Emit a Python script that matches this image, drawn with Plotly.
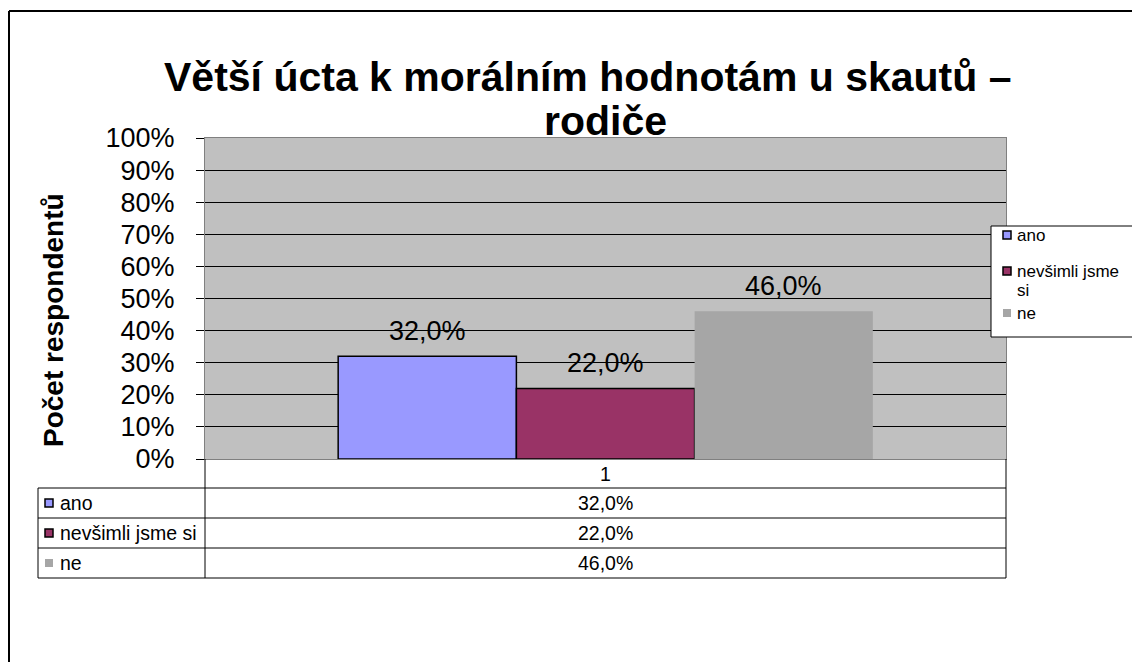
import textwrap
import plotly.graph_objects as go

# --- data -------------------------------------------------------------
categories = ["1"]
series_names = ["ano", "nevšimli jsme si", "ne"]
series_values = [0.32, 0.22, 0.46]
series_colors = ["#9999FF", "#993366", "#A6A6A6"]
series_outlined = [True, True, False]
y_ticks = [0.0, 0.1, 0.2, 0.3, 0.4, 0.5, 0.6, 0.7, 0.8, 0.9, 1.0]
title_lines = ["Větší úcta k morálním hodnotám u skautů –", "rodiče"]
y_title = "Počet respondentů"

# --- geometry (pixels of the 1132 x 662 page) --------------------------
W, H = 1132, 662
FONT = "Liberation Sans, Arial, sans-serif"
PLOT_L, PLOT_R, PLOT_T, PLOT_B = 205, 1006, 138, 459
BARGAP = 0.3325
TABLE_FONT = 19.5


def fx(p):
    return p / W


def fy(p):
    return 1 - p / H


def pct(v):
    return f"{v * 100:.1f}".replace(".", ",") + "%"


fig = go.Figure()

for name, val, col, outl in zip(series_names, series_values, series_colors, series_outlined):
    fig.add_trace(go.Bar(
        x=categories, y=[val], name=name, showlegend=False,
        marker=dict(color=col, line=dict(color="black", width=1.5 if outl else 0)),
    ))

annotations = []
shapes = []

# two-line chart title
for k, (line, xc) in enumerate(zip(title_lines, [588, 605])):
    annotations.append(dict(
        x=fx(xc), y=fy(77 + 44 * k), xref="paper", yref="paper", text=line,
        showarrow=False, xanchor="center", yanchor="middle",
        font=dict(family=FONT, size=41, color="black", weight="bold"),
    ))

# value labels above the bars
bar_w = (1 - BARGAP) / len(series_values)
for i, val in enumerate(series_values):
    annotations.append(dict(
        x=(i - (len(series_values) - 1) / 2) * bar_w, y=val, xref="x", yref="y",
        text=pct(val), showarrow=False, yanchor="bottom", yshift=8,
        font=dict(family=FONT, size=27, color="black"),
    ))

# rotated axis title
annotations.append(dict(
    x=fx(53), y=fy(320), xref="paper", yref="paper", text=y_title,
    textangle=-90, showarrow=False, xanchor="center", yanchor="middle",
    font=dict(family=FONT, size=28, color="black", weight="bold"),
))

# outer chart frame
shapes.append(dict(type="line", xref="paper", yref="paper",
                   x0=fx(9), x1=fx(9), y0=fy(11), y1=fy(H + 5),
                   line=dict(color="black", width=2)))
shapes.append(dict(type="line", xref="paper", yref="paper",
                   x0=fx(9), x1=fx(W + 5), y0=fy(11), y1=fy(11),
                   line=dict(color="black", width=2)))

# legend box
LEG_L, LEG_T, LEG_B = 991, 226, 337
shapes.append(dict(type="rect", xref="paper", yref="paper",
                   x0=fx(LEG_L), x1=fx(W + 10), y0=fy(LEG_B), y1=fy(LEG_T),
                   fillcolor="white", line=dict(color="black", width=1)))
leg_y = 235
for name, col, outl in zip(series_names, series_colors, series_outlined):
    shapes.append(dict(type="rect", xref="paper", yref="paper",
                       x0=fx(1003), x1=fx(1011), y0=fy(leg_y + 4), y1=fy(leg_y - 4),
                       fillcolor=col,
                       line=dict(color="black" if outl else col, width=1.5 if outl else 0)))
    wrapped = textwrap.wrap(name, 13)
    for k, line in enumerate(wrapped):
        annotations.append(dict(
            x=fx(1016), y=fy(leg_y + k * 19), xref="paper", yref="paper",
            text=line, showarrow=False, xanchor="left", yanchor="middle",
            borderpad=0, font=dict(family=FONT, size=17, color="black"),
        ))
    leg_y += 36 + 6 * (len(wrapped) - 1)

# data table under the plot
TBL_L = 38
row_edges = [488, 518, 548, 578]
for yb in row_edges:
    shapes.append(dict(type="line", xref="paper", yref="paper",
                       x0=fx(TBL_L), x1=fx(PLOT_R), y0=fy(yb), y1=fy(yb),
                       line=dict(color="black", width=1)))
for xv, ytop in [(TBL_L, row_edges[0]), (PLOT_L, PLOT_B), (PLOT_R, PLOT_B)]:
    shapes.append(dict(type="line", xref="paper", yref="paper",
                       x0=fx(xv), x1=fx(xv), y0=fy(ytop), y1=fy(row_edges[-1]),
                       line=dict(color="black", width=1)))
for i, (name, val, col, outl) in enumerate(zip(series_names, series_values,
                                                series_colors, series_outlined)):
    yc = (row_edges[i] + row_edges[i + 1]) / 2
    shapes.append(dict(type="rect", xref="paper", yref="paper",
                       x0=fx(45), x1=fx(53), y0=fy(yc + 4), y1=fy(yc - 4),
                       fillcolor=col,
                       line=dict(color="black" if outl else col, width=1.5 if outl else 0)))
    annotations.append(dict(
        x=fx(58), y=fy(yc), xref="paper", yref="paper", text=name,
        showarrow=False, xanchor="left", yanchor="middle",
        font=dict(family=FONT, size=TABLE_FONT, color="black"),
    ))
    annotations.append(dict(
        x=fx((PLOT_L + PLOT_R) / 2), y=fy(yc), xref="paper", yref="paper",
        text=pct(val), showarrow=False, xanchor="center", yanchor="middle",
        font=dict(family=FONT, size=TABLE_FONT, color="black"),
    ))

fig.update_layout(
    width=W, height=H,
    margin=dict(l=0, r=0, t=0, b=0, autoexpand=False),
    paper_bgcolor="white", plot_bgcolor="#C0C0C0",
    barmode="group", bargap=BARGAP, bargroupgap=0,
    showlegend=False,
    font=dict(family=FONT, color="black"),
    xaxis=dict(domain=[fx(PLOT_L), fx(PLOT_R)], type="category",
               showgrid=False, showline=True, linecolor="#808080", linewidth=1,
               mirror=True, ticks="", ticklabelstandoff=-2,
               tickfont=dict(family=FONT, size=TABLE_FONT, color="black")),
    yaxis=dict(domain=[fy(PLOT_B), fy(PLOT_T)], range=[0, 1],
               tickvals=y_ticks, ticktext=[f"{round(t * 100)}%" for t in y_ticks],
               showgrid=True, gridcolor="black", gridwidth=1,
               showline=True, linecolor="#808080", linewidth=1, mirror=True,
               ticks="outside", ticklen=8, tickcolor="black",
               ticklabelstandoff=16, zeroline=False,
               tickfont=dict(family=FONT, size=27, color="black")),
    annotations=annotations, shapes=shapes,
)

fig.write_html("out.html")
